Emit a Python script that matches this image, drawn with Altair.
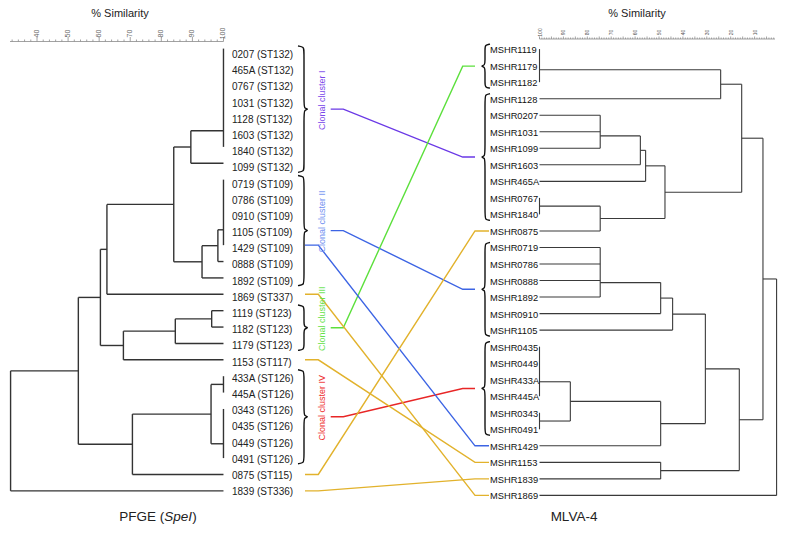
import altair as alt
import pandas as pd

# ---------------- data ----------------
left_ids = ["0207", "465A", "0767", "1031", "1128", "1603", "1840", "1099",
            "0719", "0786", "0910", "1105", "1429", "0888", "1892", "1869",
            "1119", "1182", "1179", "1153", "433A", "445A", "0343", "0435",
            "0449", "0491", "0875", "1839"]
left_st = (["ST132"] * 8 + ["ST109"] * 7 + ["ST337"] + ["ST123"] * 3 + ["ST117"]
           + ["ST126"] * 6 + ["ST115", "ST336"])

right_ids = ["1119", "1179", "1182", "1128", "0207", "1031", "1099", "1603", "465A",
             "0767", "1840", "0875", "0719", "0786", "0888", "1892", "0910", "1105",
             "0435", "0449", "433A", "445A", "0343", "0491", "1429", "1153", "1839", "1869"]

# merges: (node, children, % similarity)
left_merges = [
    ("A", ["0207", "465A", "0767", "1031", "1128", "1603", "1840"], 100),
    ("B", ["A", "1099"], 89.5),
    ("C", ["0719", "0786", "0910", "1105", "1429"], 100),
    ("D", ["C", "0888"], 98.2),
    ("E", ["D", "1892"], 93.1),
    ("F", ["B", "E"], 84.0),
    ("G", ["F", "1869"], 62.5),
    ("H", ["1119", "1182"], 96.2),
    ("I", ["H", "1179"], 84.5),
    ("J", ["I", "1153"], 67.8),
    ("K", ["G", "J"], 60.4),
    ("L", ["433A", "445A"], 100),
    ("M", ["0343", "0435", "0449", "0491"], 100),
    ("N", ["L", "M"], 96.0),
    ("O", ["N", "0875"], 70.7),
    ("P", ["K", "O"], 53.3),
    ("Q", ["P", "1839"], 31.5),
]
right_merges = [
    ("R1", ["1119", "1179", "1182"], 100),
    ("R2", ["R1", "1128"], 24.2),
    ("R3", ["0207", "1031", "1099"], 74.6),
    ("R4", ["R3", "1603"], 57.8),
    ("R5", ["R4", "465A"], 55.6),
    ("R6", ["0767", "1840"], 100),
    ("R7", ["R6", "0875"], 74.6),
    ("R8", ["R5", "R7"], 47.5),
    ("R9", ["R2", "R8"], 15.4),
    ("R10", ["0719", "0786", "0888", "1892"], 74.6),
    ("R11", ["R10", "0910"], 49.3),
    ("R12", ["R11", "1105"], 44.3),
    ("R13", ["0435", "0449", "433A", "445A"], 100),
    ("R14", ["0343", "0491"], 100),
    ("R15", ["R13", "R14"], 87.1),
    ("R16", ["R15", "1429"], 49.3),
    ("R17", ["R12", "R16"], 30.6),
    ("R18", ["1153", "1839"], 49.3),
    ("R19", ["R17", "R18"], 16.4),
    ("R20", ["R9", "R19"], 6.5),
    ("R21", ["R20", "1869"], 0.8),
]

# clonal clusters: label, left first/last, right first/last, line colour, text colour
clusters = [
    ("Clonal cluster I", "0207", "1099", "1128", "1840", "#6a38e6", "#7b48ea"),
    ("Clonal cluster II", "0719", "1892", "0719", "1105", "#3c64e4", "#6f8ff0"),
    ("Clonal cluster III", "1119", "1179", "1119", "1182", "#5ce03c", "#66e24c"),
    ("Clonal cluster IV", "433A", "0491", "0435", "0491", "#e82626", "#ee2c2c"),
]
# single isolates linked between the two trees
singles = [("1429", "#3c64e4"), ("1869", "#e2b22c"), ("1153", "#e2b22c"),
           ("0875", "#e2b22c"), ("1839", "#e2b22c")]

left_major = [40, 50, 60, 70, 80, 90, 100]
right_major = [100, 90, 80, 70, 60, 50, 40, 30, 20, 10]

# ---------------- layout (page pixels) ----------------
def LX(s): return 37 + (s - 40) * 3.108
def RX(s): return 539.5 + (100 - s) * 2.39
def LY(i): return 48.6 + 16.38 * i
def RY(i): return 49.1 + 16.53 * i
def LT(i): return 55 + 16.19 * i
def RT(i): return RY(i) + 1

lrow = {k: i for i, k in enumerate(left_ids)}
rrow = {k: i for i, k in enumerate(right_ids)}


def tree_segments(merges, rows, xmap, ymap):
    pos = {k: (i, 100) for k, i in rows.items()}
    segs = []
    for name, kids, s in merges:
        ys = [pos[k][0] for k in kids]
        for k in kids:
            ky, ks = pos[k]
            if ks != s:
                segs.append(dict(x=xmap(s), x2=xmap(ks), y=ymap(ky), y2=ymap(ky)))
        segs.append(dict(x=xmap(s), x2=xmap(s), y=ymap(min(ys)), y2=ymap(max(ys))))
        y = ys[0]
        for v in ys[1:]:
            y = (y + v) / 2
        pos[name] = (y, s)
    return pd.DataFrame(segs)


left_segs = tree_segments(left_merges, lrow, LX, LY)
right_segs = tree_segments(right_merges, rrow, RX, RY)

XS = alt.Scale(domain=[8, 782], nice=False, zero=False)
YS = alt.Scale(domain=[8, 532], nice=False, zero=False, reverse=True)
FONT = "Liberation Sans"


def X(f="x"): return alt.X(f"{f}:Q", scale=XS, axis=None)
def Y(f="y"): return alt.Y(f"{f}:Q", scale=YS, axis=None)


def rules(df, color, width):
    return alt.Chart(df).mark_rule(color=color, strokeWidth=width).encode(
        x=X(), x2="x2:Q", y=Y(), y2="y2:Q")


layers = []
layers.append(rules(left_segs, "#333333", 1.4))
layers.append(rules(right_segs, "#3a3a3a", 1.1))

# leaf labels
ltext = pd.DataFrame({"x": [LX(100) + 8.5] * len(left_ids),
                      "y": [LT(i) for i in range(len(left_ids))],
                      "t": [f"{k} ({s})" for k, s in zip(left_ids, left_st)]})
rtext = pd.DataFrame({"x": [490] * len(right_ids),
                      "y": [RT(i) for i in range(len(right_ids))],
                      "t": ["MSHR" + k for k in right_ids]})
layers.append(alt.Chart(ltext).mark_text(font=FONT, fontSize=10, align="left",
                                         baseline="middle", color="#222").encode(
    x=X(), y=Y(), text="t:N"))
layers.append(alt.Chart(rtext).mark_text(font=FONT, fontSize=9.3, align="left",
                                         baseline="middle", color="#111").encode(
    x=X(), y=Y(), text="t:N"))

# axes
ax_rows = []
ax_rows.append(dict(x=10, x2=LX(100), y=41.5, y2=41.5))
for v in range(32, 100, 2):
    if v % 10:
        ax_rows.append(dict(x=LX(v), x2=LX(v), y=39.5, y2=41.5))
for v in left_major:
    ax_rows.append(dict(x=LX(v), x2=LX(v), y=37, y2=41.5))
ax_rows.append(dict(x=RX(100), x2=775, y=39, y2=39))
for v in range(2, 101):
    top = 36.5 if v % 5 == 0 else 37.5
    ax_rows.append(dict(x=RX(v), x2=RX(v), y=top, y2=39))
layers.append(rules(pd.DataFrame(ax_rows), "#8a8a8a", 0.8))

lab_l = pd.DataFrame({"x": [LX(v) for v in left_major], "y": [33.5] * len(left_major),
                      "t": [str(v) for v in left_major]})
lab_r = pd.DataFrame({"x": [RX(v) for v in right_major], "y": [32.5] * len(right_major),
                      "t": [str(v) for v in right_major]})
layers.append(alt.Chart(lab_l).mark_text(font=FONT, fontSize=7, angle=270, align="center",
                                         baseline="middle", color="#666").encode(
    x=X(), y=Y(), text="t:N"))
layers.append(alt.Chart(lab_r).mark_text(font=FONT, fontSize=5, angle=270, align="center",
                                         baseline="middle", color="#555").encode(
    x=X(), y=Y(), text="t:N"))

titles = pd.DataFrame({"x": [120, 637], "y": [14, 14], "t": ["% Similarity", "% Similarity"]})
layers.append(alt.Chart(titles).mark_text(font=FONT, fontSize=11, align="center",
                                          baseline="middle", color="#222").encode(
    x=X(), y=Y(), text="t:N"))

# braces
brace_pts = []
conn_pts = []
cl_labels = []
for ci, (lab, lf, ll, rf, rl, lc, tc) in enumerate(clusters):
    top, bot = LT(lrow[lf]) - 9, LT(lrow[ll]) + 4
    mid = (top + bot) / 2
    x0, xs, xt = 298, 304, 309
    pts = [(x0, top), (xs, top + 1), (xs, top + 5), (xs, mid - 5), (xs, mid - 1), (xt, mid),
           (xs, mid + 1), (xs, mid + 5), (xs, bot - 5), (xs, bot - 1), (x0, bot)]
    for k, (px, py) in enumerate(pts):
        brace_pts.append(dict(id=f"L{ci}", k=k, x=px, y=py))
    rtop, rbot = RT(rrow[rf]) - 6, RT(rrow[rl]) + 5
    rmid = (rtop + rbot) / 2
    r0, rs, rt = 490, 485, 480.5
    pts = [(r0, rtop), (rs, rtop + 1), (rs, rtop + 5), (rs, rmid - 5), (rs, rmid - 1), (rt, rmid),
           (rs, rmid + 1), (rs, rmid + 5), (rs, rbot - 5), (rs, rbot - 1), (r0, rbot)]
    for k, (px, py) in enumerate(pts):
        brace_pts.append(dict(id=f"R{ci}", k=k, x=px, y=py))
    for k, (px, py) in enumerate([(330.7, mid), (343.3, mid), (462.7, rmid), (475, rmid)]):
        conn_pts.append(dict(id=f"C{ci}", k=k, x=px, y=py, c=lc))
    cl_labels.append(dict(x=322, y=mid - 9, t=lab, c=tc))

for si, (key, col) in enumerate(singles):
    ly, ry = LY(lrow[key]), RY(rrow[key])
    for k, (px, py) in enumerate([(305, ly), (318.3, ly), (475, ry), (489, ry)]):
        conn_pts.append(dict(id=f"S{si}", k=k, x=px, y=py, c=col))

layers.append(alt.Chart(pd.DataFrame(conn_pts)).mark_line(strokeWidth=1.4).encode(
    x=X(), y=Y(), detail="id:N", order="k:Q", color=alt.Color("c:N", scale=None)))
layers.append(alt.Chart(pd.DataFrame(brace_pts)).mark_line(
    interpolate="basis", strokeWidth=1.4, color="#111").encode(
    x=X(), y=Y(), detail="id:N", order="k:Q"))
layers.append(alt.Chart(pd.DataFrame(cl_labels)).mark_text(
    font=FONT, fontSize=9, angle=270, align="center", baseline="middle").encode(
    x=X(), y=Y(), text="t:N", color=alt.Color("c:N", scale=None)))

# bottom titles
b1 = pd.DataFrame({"x": [164.3], "y": [517], "t": ["PFGE ("]})
b2 = pd.DataFrame({"x": [164.3], "y": [517], "t": ["SpeI"]})
b3 = pd.DataFrame({"x": [192.3], "y": [517], "t": [")"]})
b4 = pd.DataFrame({"x": [574], "y": [517], "t": ["MLVA-4"]})
layers.append(alt.Chart(b1).mark_text(font=FONT, fontSize=13.5, align="right",
                                      baseline="middle", color="#222").encode(
    x=X(), y=Y(), text="t:N"))
layers.append(alt.Chart(b2).mark_text(font=FONT, fontSize=13.5, align="left", fontStyle="italic",
                                      baseline="middle", color="#222").encode(
    x=X(), y=Y(), text="t:N"))
layers.append(alt.Chart(b3).mark_text(font=FONT, fontSize=13.5, align="left",
                                      baseline="middle", color="#222").encode(
    x=X(), y=Y(), text="t:N"))
layers.append(alt.Chart(b4).mark_text(font=FONT, fontSize=13.5, align="center",
                                      baseline="middle", color="#222").encode(
    x=X(), y=Y(), text="t:N"))

chart = alt.layer(*layers).properties(
    width=774, height=524, padding=0,
    autosize=alt.AutoSizeParams(type="none"),
).configure_view(stroke=None)

chart.save("out.html", embed_options={"renderer": "svg", "actions": False})
